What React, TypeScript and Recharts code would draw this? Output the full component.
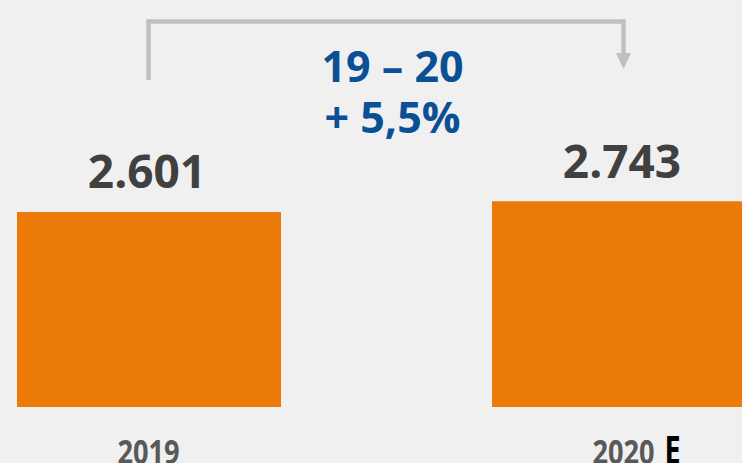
import React from 'react';
import { BarChart, Bar, XAxis, YAxis, LabelList, ReferenceLine, ReferenceDot, Label } from 'recharts';

// ---- data ----
const years = ['2019', '2020'];
const volumes = [2601, 2743];
const yearSuffixes = ['', 'E'];
const changeTitle = '19 – 20';
const changeValue = '+ 5,5%';

// annotation levels (in value units of the y axis)
const bracketLevel = 5140;
const bracketTopLevel = 5170;
const bracketStartLevel = 4360;
const arrowBaseLevel = 4693;
const arrowTipLevel = 4507;

const data = years.map((y, i) => ({ year: y, value: volumes[i], suffix: yearSuffixes[i] }));

const formatDe = (v: number) => {
  const th = Math.floor(v / 1000);
  const rest = String(v % 1000).padStart(3, '0');
  return th > 0 ? `${th}.${rest}` : String(v);
};

const FONT = '"Open Sans", "Noto Sans", sans-serif';

const ValueLabel = (props: any) => {
  const { x, y, width, value } = props;
  return (
    <text
      x={x + width / 2 - 2}
      y={y - 23.5}
      textAnchor="middle"
      fontFamily={FONT}
      fontWeight={700}
      fontSize={46}
      fill="#404040"
    >
      {formatDe(value)}
    </text>
  );
};

const YearTick = (props: any) => {
  const { x, y, payload, index } = props;
  const suffix = yearSuffixes[index] || '';
  return (
    <g transform={`translate(${x},${y + 49})`}>
      <g transform="scale(0.8,1)">
        <text textAnchor="middle" fontFamily={FONT} fontWeight={700} fontSize={34} fill="#595959">
          {payload.value}
        </text>
      </g>
      {suffix ? (
        <g transform="translate(41,0) scale(0.72,1)">
          <text textAnchor="start" fontFamily={FONT} fontWeight={700} fontSize={40} fill="#000000">
            {suffix}
          </text>
        </g>
      ) : null}
    </g>
  );
};

const ChangeLabel = (props: any) => {
  const vb = props.viewBox || {};
  const cx = (vb.x || 0) + (vb.width || 0) / 2 + 6.5;
  const y0 = vb.y || 0;
  return (
    <g>
      <text x={cx} y={y0 + 60.5} textAnchor="middle" fontFamily={FONT} fontWeight={700} fontSize={43} fill="#0b4f95">
        {changeTitle}
      </text>
      <text x={cx} y={y0 + 111} textAnchor="middle" fontFamily={FONT} fontWeight={700} fontSize={43} fill="#0b4f95">
        {changeValue}
      </text>
    </g>
  );
};

const ArrowHead = (props: any) => {
  const { cx, cy } = props;
  if (cx == null || cy == null) return <g />;
  return <path d={`M${cx - 7.5},${cy - 16} L${cx + 7.5},${cy - 16} L${cx},${cy} Z`} fill="#c0c0c0" />;
};

export default function App() {
  return (
    <div
      style={{
        position: 'fixed',
        left: 0,
        top: 0,
        width: 742,
        height: 463,
        overflow: 'hidden',
        background: '#f0f0f0',
      }}
    >
      <div style={{ position: 'absolute', left: -89, top: 0 }}>
        <BarChart width={950} height={463} data={data} margin={{ top: 167, right: 0, bottom: 0, left: 0 }}>
          <YAxis hide domain={[0, 3200]} />
          <XAxis dataKey="year" axisLine={false} tickLine={false} height={56} tick={<YearTick />} interval={0} />
          <Bar dataKey="value" fill="#ec7a08" barSize={264} isAnimationActive={false}>
            <LabelList dataKey="value" content={<ValueLabel />} />
          </Bar>
          <ReferenceLine
            ifOverflow="visible"
            stroke="#c0c0c0"
            strokeWidth={4.5}
            segment={[
              { x: years[0], y: bracketStartLevel },
              { x: years[0], y: bracketTopLevel },
            ]}
          />
          <ReferenceLine
            ifOverflow="visible"
            stroke="#c0c0c0"
            strokeWidth={4.5}
            segment={[
              { x: years[0], y: bracketLevel },
              { x: years[1], y: bracketLevel },
            ]}
          >
            <Label content={<ChangeLabel />} />
          </ReferenceLine>
          <ReferenceLine
            ifOverflow="visible"
            stroke="#c0c0c0"
            strokeWidth={4.5}
            segment={[
              { x: years[1], y: bracketTopLevel },
              { x: years[1], y: arrowBaseLevel },
            ]}
          />
          <ReferenceDot
            ifOverflow="visible"
            x={years[1]}
            y={arrowTipLevel}
            r={8}
            shape={<ArrowHead />}
          />
        </BarChart>
      </div>
    </div>
  );
}
